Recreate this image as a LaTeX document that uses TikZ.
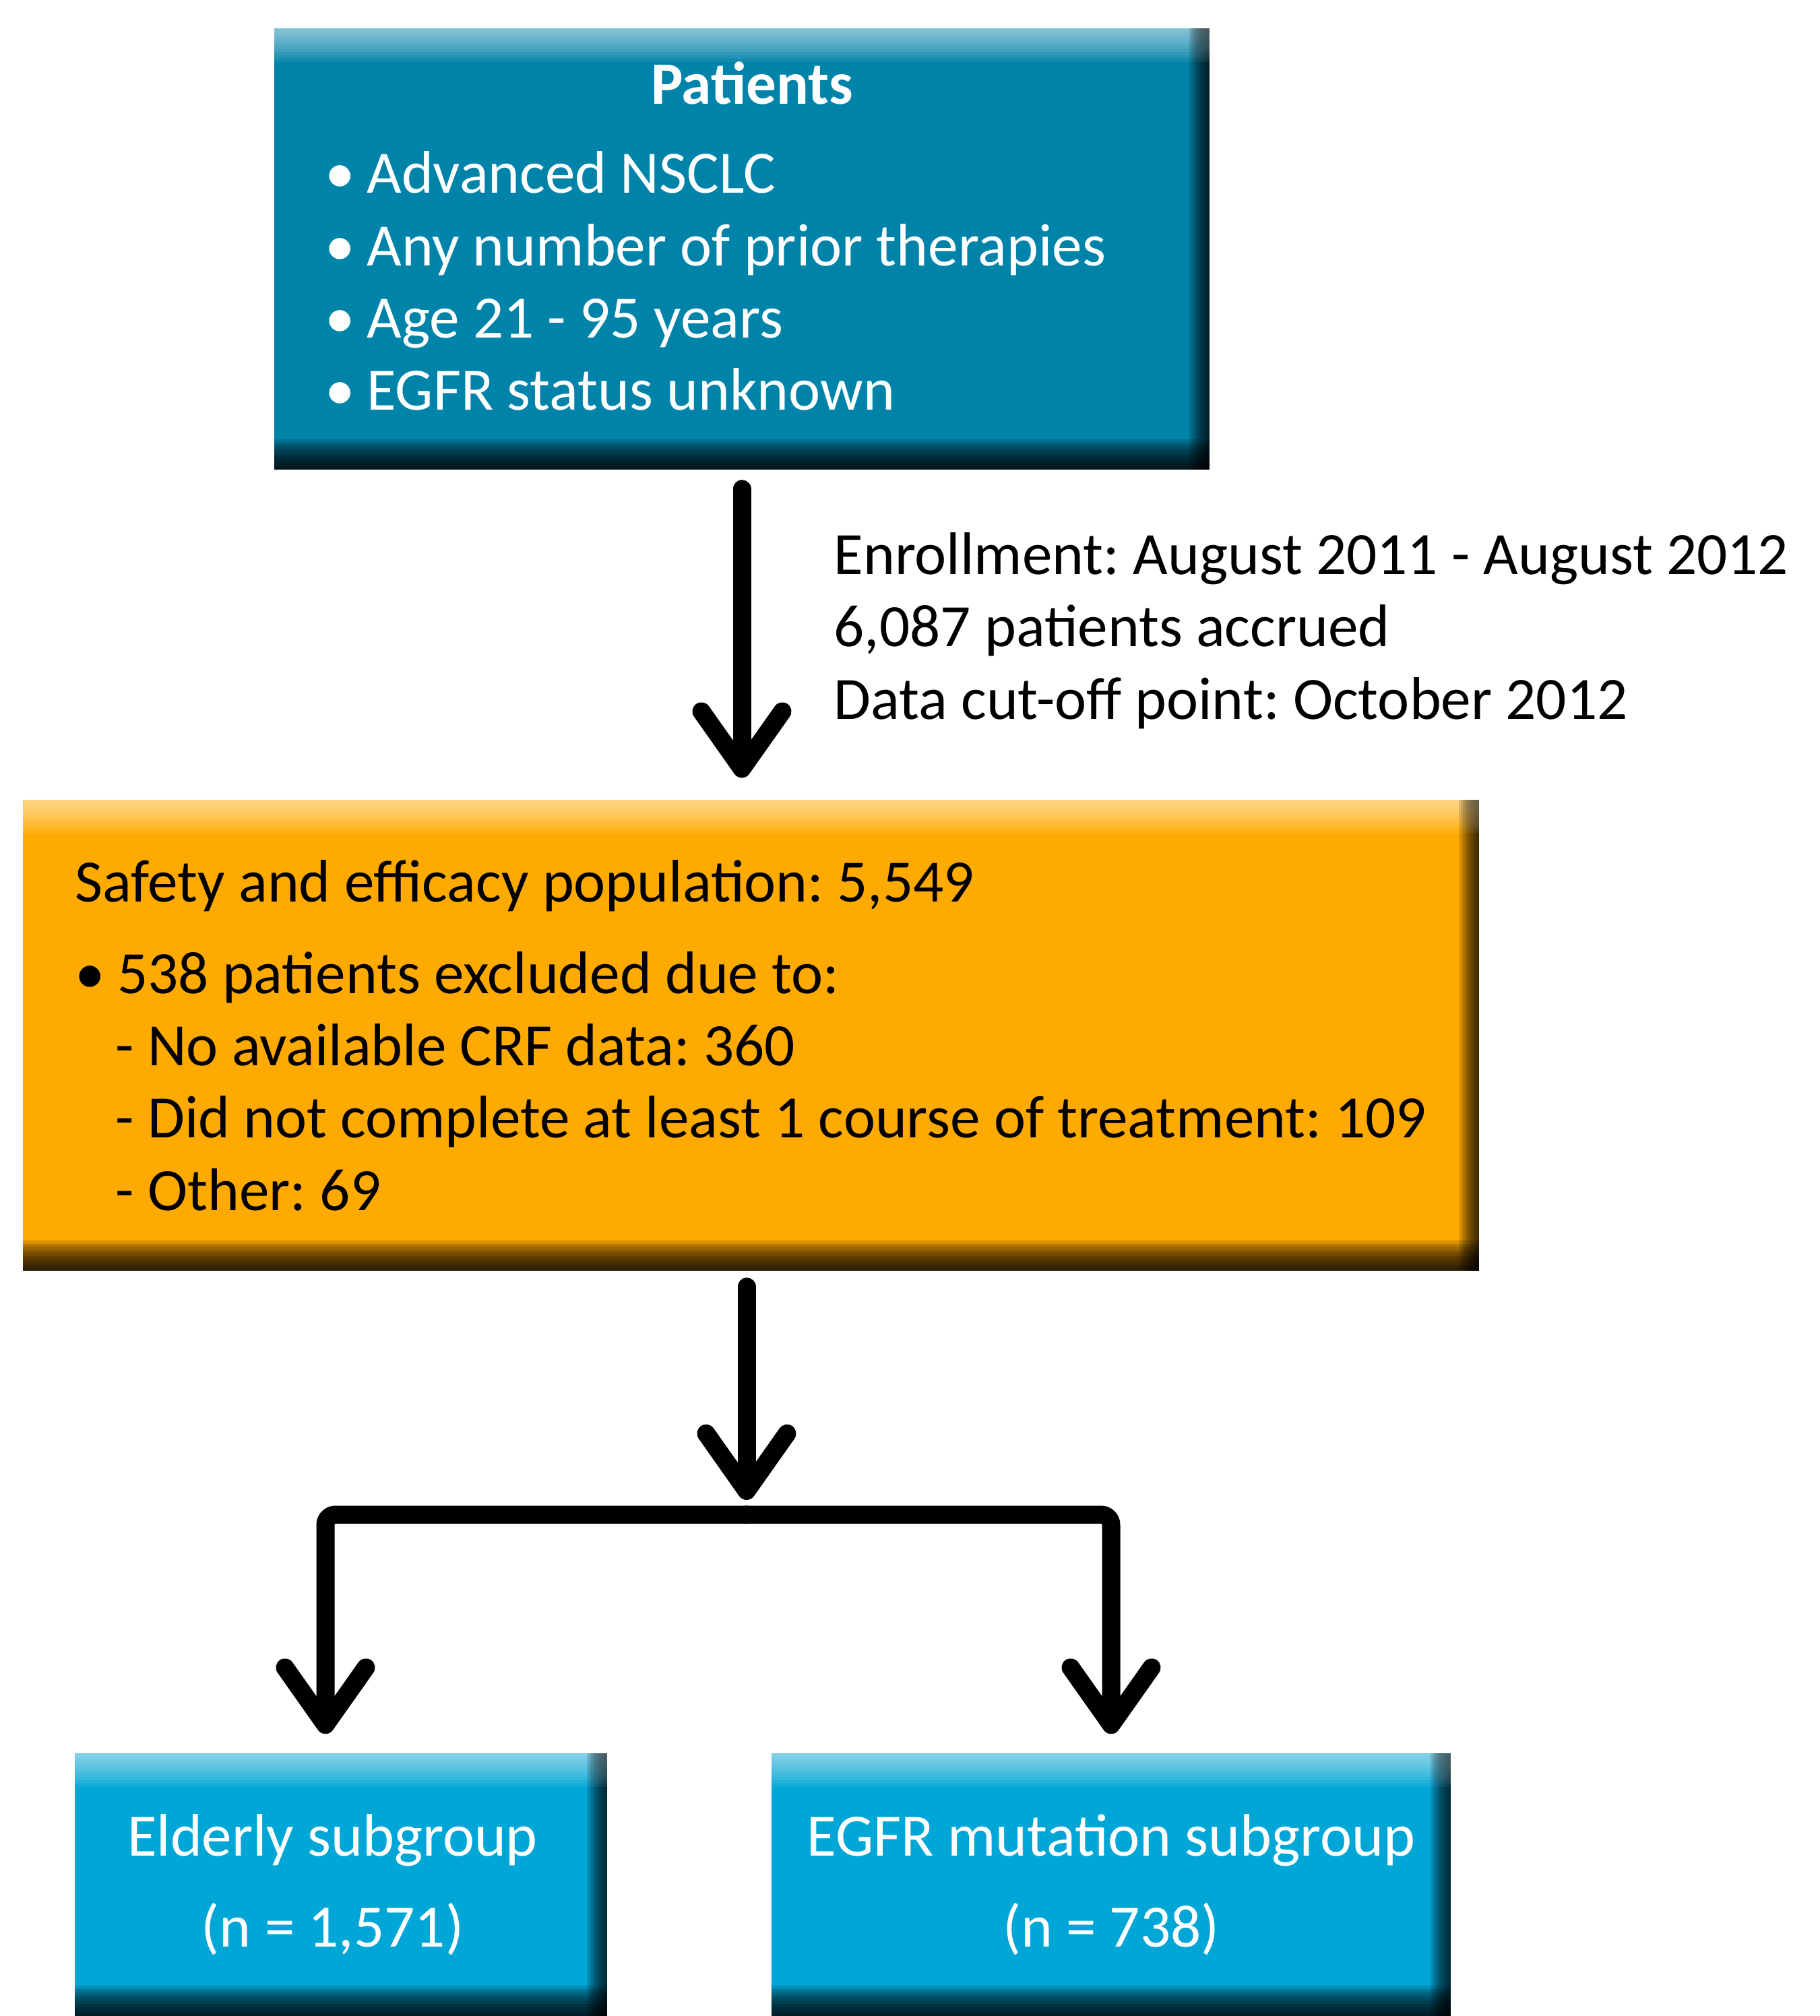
\documentclass[tikz,border=0pt]{standalone}
\usepackage{fontspec}
\setmainfont{Carlito}
\usepackage{tikz}
\usetikzlibrary{arrows.meta, calc}
\definecolor{patblue}{RGB}{0,131,169}
\definecolor{safeorange}{RGB}{255,170,0}
\definecolor{subblue}{RGB}{0,166,214}
\newcommand{\bul}{\textbullet\hspace{0.18cm}}
\tikzset{
    bevel/.style={fill=#1, path picture={
        \foreach \k in {1,...,10} {
            \fill[white, opacity=0.07] (path picture bounding box.north west) rectangle ([yshift=-\k*0.05cm]path picture bounding box.north east);
            \fill[black, opacity=0.12] ([xshift=-\k*0.03cm]path picture bounding box.north east) rectangle (path picture bounding box.south east);
            \fill[black, opacity=0.15] (path picture bounding box.south west) rectangle ([yshift=\k*0.045cm]path picture bounding box.south east);
        }
    }},
    patientbox/.style={rectangle, bevel=patblue, text=white, minimum width=13.88cm, minimum height=6.55cm, inner xsep=0.75cm, text width=12.38cm, align=flush left},
    safetybox/.style={rectangle, bevel=safeorange, text=black, minimum width=21.61cm, minimum height=6.99cm, align=left},
    subbox/.style={rectangle, bevel=subblue, text=white, minimum height=3.9cm, align=center},
    note/.style={align=left, inner sep=0pt, text=black},
    arrow/.style={-{Straight Barb[round, length=0.85cm, width=1.2cm]}, line width=0.27cm, line cap=round, line join=round},
}
\begin{document}
\frenchspacing
\begin{tikzpicture}[font=\fontsize{25.4}{30.5}\selectfont]
    \useasboundingbox (0,0) rectangle (27.01,-29.92);

    % Patients
    \node[patientbox] (patients) at (11.01,-3.695) {\makebox[\linewidth]{\hspace{0.3cm}\bfseries Patients}\\[0.25cm]
        \bul Advanced NSCLC\\
        \bul Any number of prior therapies\\
        \bul Age 21 - 95 years\\
        \bul EGFR status unknown\par\vspace*{0.38cm}};

    % Enrollment
    \node[note, anchor=west] (enroll) at (12.37,-9.36) {Enrollment: August 2011 - August 2012\\6,087 patients accrued\\Data cut-off point: October 2012};

    % Safety and efficacy
    \node[safetybox] (safety) at (11.145,-15.365) {Safety and efficacy population: 5,549\\[0.29cm]
        \bul 538 patients excluded due to:\\
        \hspace*{0.6cm}- No available CRF data: 360\\
        \hspace*{0.6cm}- Did not complete at least 1 course of treatment: 109\\
        \hspace*{0.6cm}- Other: 69};

    % Subgroups
    \node[subbox, minimum width=7.9cm] (elderly) at (5.06,-27.97) {Elderly subgroup\hspace*{0.25cm}\\[0.28cm](n = 1,571)\hspace*{0.25cm}};
    \node[subbox, minimum width=10.08cm] (egfr) at (16.49,-27.97) {EGFR mutation subgroup\\[0.28cm](n = 738)};
    \coordinate (split) at (11.08,-22.48);

    % Arrows
    \draw[arrow, shorten <=0.28cm, shorten >=0.32cm] (patients.south) -- (patients.south |- safety.north);
    \draw[arrow, shorten <=0.23cm, shorten >=0.22cm] (safety.south -| split) -- (split);
    \draw[arrow, rounded corners=0.15cm, shorten >=0.28cm] (split) -| ($(elderly.north)+(-0.23,0)$);
    \draw[arrow, rounded corners=0.15cm, shorten >=0.28cm] (split) -| (egfr.north);
\end{tikzpicture}
\end{document}
